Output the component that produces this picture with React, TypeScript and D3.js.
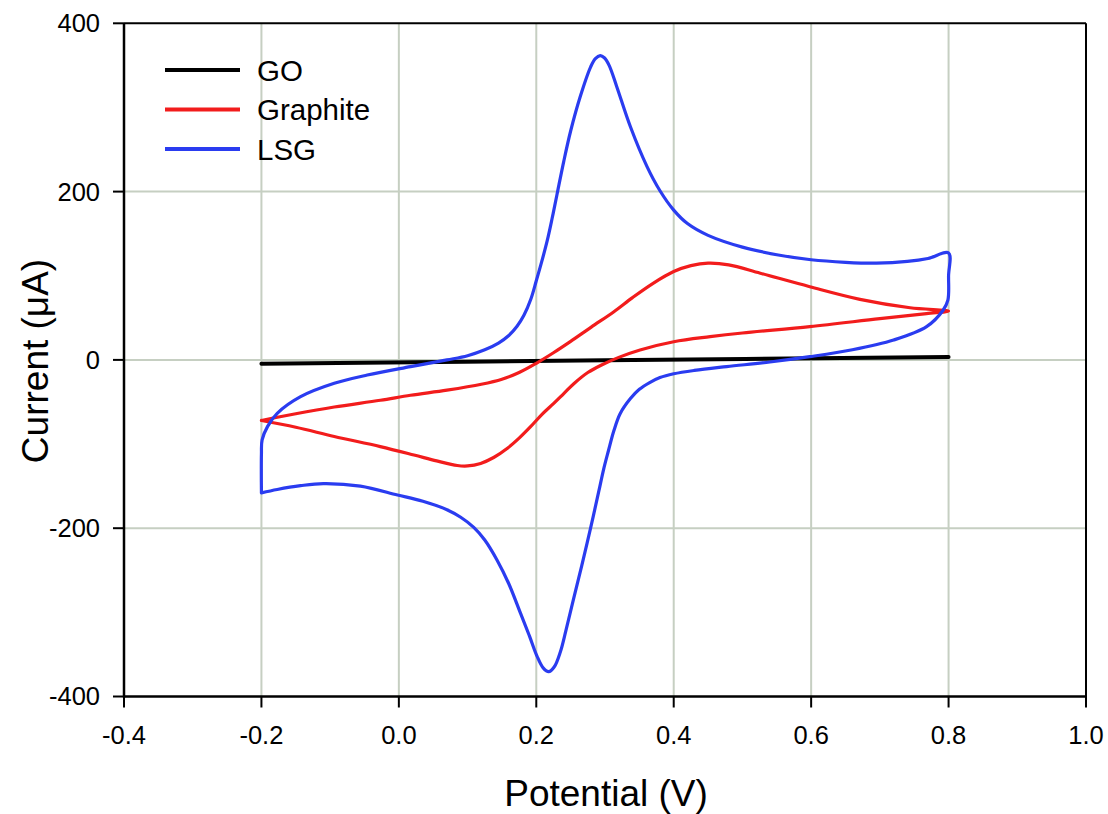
import React from "react";
import * as d3 from "d3";

type Pt = [number, number];

const xTicks = [-0.4, -0.2, 0.0, 0.2, 0.4, 0.6, 0.8, 1.0];
const yTicks = [-400, -200, 0, 200, 400];

const goSeries: Pt[] = [
  [-0.2, -4.5], [0.3, -0.5], [0.8, 3.5],
];

const graphiteSeries: Pt[] = [
  [-0.2, -72], [-0.15, -64], [-0.094, -56], [-0.027, -48], [0.017, -42], [0.07, -36],
  [0.12, -29], [0.15, -23], [0.175, -15], [0.2, -4], [0.225, 8.5], [0.25, 22], [0.28, 39],
  [0.3125, 57], [0.34, 74], [0.37, 91], [0.4, 105], [0.425, 112], [0.45, 115], [0.48, 113],
  [0.526, 103], [0.598, 87], [0.671, 72], [0.744, 62], [0.8, 58],
  [0.768, 55], [0.7, 49], [0.598, 39.5], [0.5, 32], [0.453, 27.6], [0.4, 21.6],
  [0.351, 11.8], [0.32, 3], [0.295, -6], [0.275, -15], [0.255, -28], [0.24, -40],
  [0.225, -52], [0.208, -65], [0.191, -80], [0.175, -93], [0.158, -105], [0.138, -116],
  [0.119, -123], [0.1, -126], [0.085, -125.5], [0.055, -120], [0.022, -113], [-0.027, -103],
  [-0.094, -91], [-0.15, -80], [-0.2, -72],
];

const lsgSeries: Pt[] = [
  [-0.2, -158], [-0.2, -112], [-0.199, -95], [-0.191, -79], [-0.177, -63.5],
  [-0.143, -43.7], [-0.094, -27.8], [-0.046, -18], [0.017, -8], [0.07, 0],
  [0.1, 5], [0.125, 12], [0.145, 20], [0.16, 29], [0.172, 40], [0.182, 53], [0.192, 72],
  [0.2, 94], [0.208, 117], [0.216, 142], [0.223, 168], [0.23, 196], [0.24, 236],
  [0.25, 272], [0.264, 313], [0.279, 348], [0.286, 358], [0.293, 361.5], [0.299, 359],
  [0.306, 350], [0.317, 325], [0.337, 277], [0.361, 230], [0.38, 201], [0.4, 178],
  [0.42, 162], [0.45, 148], [0.5, 134], [0.55, 125], [0.6, 119], [0.65, 116],
  [0.695, 115], [0.74, 117], [0.77, 120.5], [0.8, 127],
  [0.8, 100], [0.799, 71], [0.792, 59], [0.768, 39.5], [0.72, 23.6], [0.66, 12],
  [0.598, 3.8], [0.54, -2.5], [0.477, -8], [0.43, -12.5], [0.4, -16.5], [0.38, -21],
  [0.365, -27], [0.35, -35], [0.337, -46], [0.322, -64], [0.313, -84], [0.305, -108],
  [0.298, -130], [0.291, -156], [0.279, -200], [0.266, -245], [0.254, -285],
  [0.243, -322], [0.235, -347], [0.226, -365], [0.218, -370.5], [0.21, -366],
  [0.201, -352], [0.19, -328], [0.177, -301], [0.16, -266], [0.143, -238],
  [0.125, -214], [0.109, -199], [0.09, -187], [0.07, -178], [0.035, -168],
  [-0.002, -160.5], [-0.056, -150], [-0.11, -147], [-0.143, -149.5], [-0.177, -154],
  [-0.2, -158],
];

const seriesNames = ["GO", "Graphite", "LSG"];
const seriesColors = ["#000000", "#f21c1c", "#2a3cf0"];
const seriesData = [goSeries, graphiteSeries, lsgSeries];

const FONT = "'Liberation Sans', Arial, sans-serif";

export default function App() {
  const W = 1108, H = 814;
  const left = 124, right = 1086, top = 23.3, bottom = 696.5;
  const x = d3.scaleLinear().domain([-0.4, 1.0]).range([left, right]);
  const y = d3.scaleLinear().domain([-400, 400]).range([bottom, top]);
  const line = d3
    .line<Pt>()
    .x((d) => x(d[0]))
    .y((d) => y(d[1]))
    .curve(d3.curveCatmullRom.alpha(0.5));

  const gridColor = "#c6cfc2";

  return (
    <svg
      width={W}
      height={H}
      style={{ position: "absolute", left: 0, top: 0, background: "#fff" }}
      fontFamily={FONT}
    >
      <rect x={0} y={0} width={W} height={H} fill="#fff" />
      {xTicks.filter((t) => t > -0.4 && t < 1.0).map((t) => (
        <line key={"gx" + t} x1={x(t)} x2={x(t)} y1={top} y2={bottom} stroke={gridColor} strokeWidth={2} />
      ))}
      {yTicks.filter((t) => t > -400 && t < 400).map((t) => (
        <line key={"gy" + t} x1={left} x2={right} y1={y(t)} y2={y(t)} stroke={gridColor} strokeWidth={2} />
      ))}
      {seriesData.map((s, i) => (
        <path
          key={seriesNames[i]}
          d={line(s) || ""}
          fill="none"
          stroke={seriesColors[i]}
          strokeWidth={i === 0 ? 4 : 3.2}
          strokeLinejoin="round"
          strokeLinecap="round"
        />
      ))}
      <line x1={left} x2={right} y1={top} y2={top} stroke="#000" strokeWidth={2} />
      <line x1={right} x2={right} y1={top} y2={bottom} stroke="#000" strokeWidth={2} />
      <line x1={left} x2={left} y1={top} y2={bottom + 1} stroke="#000" strokeWidth={2.5} />
      <line x1={left - 1} x2={right + 1} y1={bottom} y2={bottom} stroke="#000" strokeWidth={2.5} />
      {yTicks.map((t) => (
        <g key={"yt" + t}>
          <line x1={left - 11} x2={left} y1={y(t)} y2={y(t)} stroke="#000" strokeWidth={2} />
          <text x={left - 24} y={y(t)} dy="0.35em" textAnchor="end" fontSize={25.5} fill="#000">
            {String(t)}
          </text>
        </g>
      ))}
      {xTicks.map((t) => (
        <g key={"xt" + t}>
          <line x1={x(t)} x2={x(t)} y1={bottom} y2={bottom + 11} stroke="#000" strokeWidth={2} />
          <text x={x(t)} y={744} textAnchor="middle" fontSize={25.5} fill="#000">
            {t.toFixed(1)}
          </text>
        </g>
      ))}
      <text x={606} y={806} textAnchor="middle" fontSize={37} fill="#000">
        Potential (V)
      </text>
      <text
        transform={`translate(48, 361) rotate(-90)`}
        textAnchor="middle"
        fontSize={37}
        fill="#000"
      >
        Current (μA)
      </text>
      {seriesNames.map((n, i) => {
        const ly = 70 + i * 39.5;
        return (
          <g key={"lg" + n}>
            <line x1={165} x2={240} y1={ly} y2={ly} stroke={seriesColors[i]} strokeWidth={4} />
            <text x={257} y={ly + 10.5} fontSize={29.5} fill="#000">
              {n}
            </text>
          </g>
        );
      })}
    </svg>
  );
}
